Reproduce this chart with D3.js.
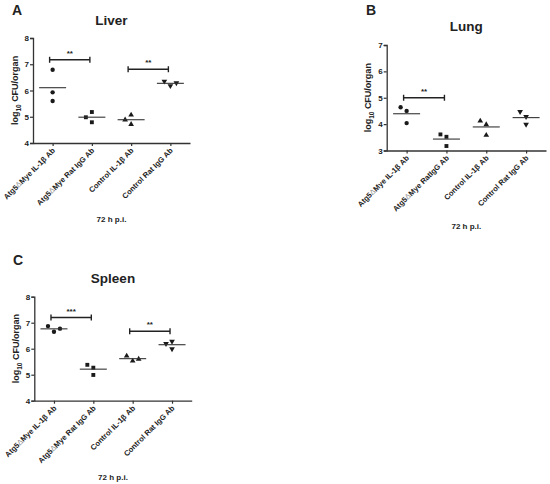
<!DOCTYPE html>
<html>
<head>
<meta charset="utf-8">
<script src="https://cdn.jsdelivr.net/npm/d3@7"></script>
<style>
  body { margin: 0; background: #fff; }
  text { font-family: "Liberation Sans", Arial, sans-serif; font-weight: bold; fill: #222; }
</style>
</head>
<body>
<div id="chart"></div>
<script>
// group names on the x axis
var groupsLiver = ["Atg5\u0394Mye IL-1\u03b2 Ab", "Atg5\u0394Mye Rat IgG Ab", "Control IL-1\u03b2 Ab", "Control Rat IgG Ab"];
var groupsLung = ["Atg5\u0394Mye IL-1\u03b2 Ab", "Atg5\u0394Mye RatIgG Ab", "Control IL-1\u03b2 Ab", "Control Rat IgG Ab"];
var groupsSpleen = ["Atg5\u0394Mye IL-1\u03b2 Ab", "Atg5\u0394Mye Rat IgG Ab", "Control IL-1\u03b2 Ab", "Control Rat IgG Ab"];

// log10 CFU/organ, three mice per group
var liverValues = [[6.79, 5.93, 5.6], [5.18, 4.98, 4.79], [5.07, 4.88, 4.71], [6.18, 6.35, 6.29]];
var lungValues = [[4.5, 4.64, 4.04], [3.52, 3.61, 3.17], [3.98, 4.12, 3.58], [4.28, 4.47, 3.99]];
var spleenValues = [[6.65, 6.87, 6.77], [5.27, 5.38, 4.99], [5.53, 5.72, 5.6], [6.28, 6.19, 5.99]];

// y ticks
var liverTicks = [4, 5, 6, 7, 8];
var lungTicks = [3, 4, 5, 6, 7];
var spleenTicks = [4, 5, 6, 7, 8];

// significance bars: from group, to group, height, stars
var liverSig = [[0, 1, 7.17, "**"], [2, 3, 6.81, "**"]];
var lungSig = [[0, 1, 5.0, "**"]];
var spleenSig = [[0, 1, 7.2, "***"], [2, 3, 6.67, "**"]];

var W = 550, H = 484;
var svg = d3.select("#chart").append("svg").attr("width", W).attr("height", H);

var symbols = [d3.symbolCircle, d3.symbolSquare, d3.symbolTriangle, d3.symbolTriangle];
var symbolSize = [15, 15, 14, 14];

function drawPanel(p) {
    var g = svg.append("g");

    var x = d3.scalePoint().domain(d3.range(p.groups.length))
        .range([p.left, p.right]).padding(0.5);
    var y = d3.scaleLinear().domain([p.ticks[0], p.ticks[p.ticks.length - 1]])
        .range([p.bottom, p.top]);

    // y axis
    var yAxis = g.append("g").attr("transform", "translate(" + p.left + ",0)")
        .call(d3.axisLeft(y).tickValues(p.ticks).tickSize(3).tickPadding(1).tickFormat(d3.format("d")));
    yAxis.select(".domain").attr("stroke", "#333").attr("stroke-width", 1.3);
    yAxis.selectAll(".tick line").attr("stroke", "#333").attr("stroke-width", 1.2);
    yAxis.selectAll("text").style("font-size", "8px").attr("fill", "#222");

    // x axis
    var xAxis = g.append("g").attr("transform", "translate(0," + p.bottom + ")")
        .call(d3.axisBottom(x).tickSize(3).tickSizeOuter(0).tickFormat(""));
    xAxis.select(".domain").attr("stroke", "#333").attr("stroke-width", 1.3);
    xAxis.selectAll(".tick line").attr("stroke", "#333").attr("stroke-width", 1.2);

    // rotated group labels
    g.selectAll(".glab").data(p.groups).enter().append("text")
        .attr("class", "glab")
        .attr("transform", function (d, i) {
            return "translate(" + (x(i) + 3) + "," + (p.bottom + 8) + ") rotate(-45)";
        })
        .attr("text-anchor", "end")
        .style("font-size", "7.6px")
        .each(function (d) {
            var t = d3.select(this);
            var parts = d.split("\u0394");
            if (parts.length > 1) {
                t.append("tspan").text(parts[0]);
                t.append("tspan").text("\u0394").attr("fill", "#888").style("font-weight", "normal");
                t.append("tspan").text(parts[1]);
            } else {
                t.text(d);
            }
        });

    // y label
    var yl = g.append("text")
        .attr("transform", "translate(" + p.ylabX + "," + ((p.top + p.bottom) / 2) + ") rotate(-90)")
        .attr("text-anchor", "middle")
        .style("font-size", "9px");
    yl.append("tspan").text("log");
    yl.append("tspan").text("10").style("font-size", "6.5px").attr("dy", 2.5);
    yl.append("tspan").text(" CFU/organ").attr("dy", -2.5);

    // titles
    g.append("text").attr("x", p.letterX).attr("y", p.letterY)
        .style("font-size", "14px").text(p.letter);
    g.append("text").attr("x", (p.left + p.right) / 2).attr("y", p.titleY)
        .attr("text-anchor", "middle").style("font-size", "13.5px").text(p.title);
    g.append("text").attr("x", (p.left + p.right) / 2).attr("y", p.xlabY)
        .attr("text-anchor", "middle").style("font-size", "8px").text("72 h p.i.");

    // points, dodged sideways where they would overlap
    var step = 6, minDist = 6;
    p.values.forEach(function (vals, gi) {
        var placed = [];
        vals.forEach(function (v) {
            var py = y(v);
            var offs = [0, -step, step, -2 * step, 2 * step];
            var dx = 0;
            for (var k = 0; k < offs.length; k++) {
                var ok = placed.every(function (q) {
                    return Math.hypot(q[0] - offs[k], q[1] - py) >= minDist;
                });
                if (ok) { dx = offs[k]; break; }
            }
            placed.push([dx, py]);
        });

        var sym = d3.symbol().type(symbols[gi]).size(symbolSize[gi]);
        g.selectAll(".pt" + gi).data(placed).enter().append("path")
            .attr("class", "pt" + gi)
            .attr("d", sym)
            .attr("fill", "#1a1a1a")
            .attr("transform", function (d) {
                return "translate(" + (x(gi) + d[0]) + "," + d[1] + ")" + (gi === 3 ? " rotate(180)" : "");
            });

        // mean line
        var m = d3.mean(vals);
        g.append("line")
            .attr("x1", x(gi) - 13.5).attr("x2", x(gi) + 13.5)
            .attr("y1", y(m)).attr("y2", y(m))
            .attr("stroke", "#333").attr("stroke-width", 1.1);
    });

    // significance bars
    p.sig.forEach(function (s) {
        var x1 = x(s[0]) - 3, x2 = x(s[1]) - 2, yy = y(s[2]);
        g.append("line").attr("x1", x1).attr("x2", x2).attr("y1", yy).attr("y2", yy)
            .attr("stroke", "#222").attr("stroke-width", 1.4);
        [x1, x2].forEach(function (xx) {
            g.append("line").attr("x1", xx).attr("x2", xx).attr("y1", yy - 3).attr("y2", yy + 3)
                .attr("stroke", "#222").attr("stroke-width", 1.4);
        });
        g.append("text").attr("x", (x1 + x2) / 2).attr("y", yy - 4)
            .attr("text-anchor", "middle").style("font-size", "8px").text(s[3]);
    });
}

drawPanel({
    groups: groupsLiver, values: liverValues, ticks: liverTicks, sig: liverSig,
    left: 33, right: 190, top: 38, bottom: 143, ylabX: 18,
    letter: "A", letterX: 12, letterY: 15, title: "Liver", titleY: 25, xlabY: 222
});
drawPanel({
    groups: groupsLung, values: lungValues, ticks: lungTicks, sig: lungSig,
    left: 386.7, right: 546, top: 45, bottom: 150.5, ylabX: 371,
    letter: "B", letterX: 366, letterY: 15, title: "Lung", titleY: 31, xlabY: 228.5
});
drawPanel({
    groups: groupsSpleen, values: spleenValues, ticks: spleenTicks, sig: spleenSig,
    left: 34.3, right: 191.7, top: 296.7, bottom: 400.7, ylabX: 19,
    letter: "C", letterX: 13, letterY: 265, title: "Spleen", titleY: 283, xlabY: 480
});
</script>
</body>
</html>
